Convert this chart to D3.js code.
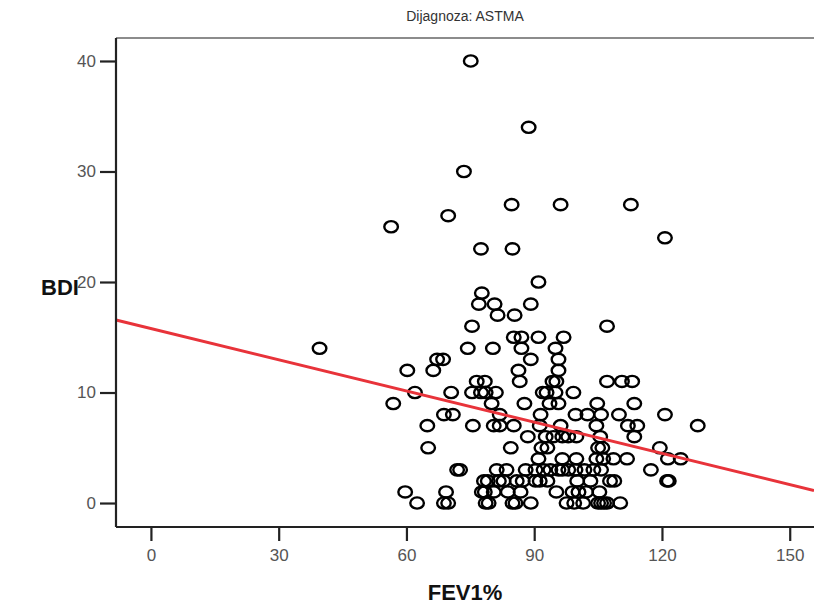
<!DOCTYPE html>
<html>
<head>
<meta charset="utf-8">
<script src="https://cdn.jsdelivr.net/npm/d3@7"></script>
<style>
  body { margin: 0; background: #fff; }
  svg text { font-family: "Liberation Sans", Arial, sans-serif; }
</style>
</head>
<body>
<div id="chart"></div>
<script>
// values: FEV1% (x) per BDI score row (y)
var fevByBdi = [
  [0,  [62.5, 68.8, 69.8, 78.6, 79.3, 84.9, 85.6, 89.2, 97.6, 99.4, 101.5, 105.0, 105.7, 106.4, 107.1, 110.2]],
  [1,  [59.7, 69.3, 77.7, 78.4, 80.5, 83.8, 86.8, 95.2, 99.0, 100.4, 102.2, 105.3]],
  [2,  [78.2, 79.1, 81.7, 82.8, 85.9, 87.3, 90.3, 91.3, 93.1, 100.1, 103.2, 107.8, 108.8, 121.2, 121.6]],
  [3,  [71.9, 72.6, 81.2, 83.5, 88.0, 90.3, 92.2, 93.8, 95.7, 96.6, 98.0, 99.7, 101.8, 103.9, 105.7, 117.4]],
  [4,  [91.0, 96.6, 99.9, 104.6, 106.2, 108.6, 111.8, 121.4, 124.4]],
  [5,  [65.1, 84.5, 91.7, 93.1, 105.0, 106.0, 119.5]],
  [6,  [88.5, 92.7, 94.5, 96.6, 98.0, 99.9, 105.5, 113.5]],
  [7,  [64.9, 75.6, 80.5, 81.9, 85.2, 91.3, 96.2, 104.6, 112.0, 114.2, 128.4]],
  [8,  [68.8, 70.9, 81.9, 91.5, 99.7, 102.5, 105.7, 109.9, 120.7]],
  [9,  [56.9, 80.0, 87.7, 93.6, 95.7, 104.8, 113.5]],
  [10, [62.0, 70.5, 75.4, 77.5, 78.6, 81.0, 92.0, 92.9, 95.0, 99.2]],
  [11, [76.5, 78.4, 86.6, 94.3, 95.2, 107.1, 110.6, 113.0]],
  [12, [60.2, 66.3, 86.3, 95.7]],
  [13, [67.2, 68.6, 89.2, 95.7]],
  [14, [39.6, 74.4, 80.3, 87.0, 95.0]],
  [15, [85.2, 87.0, 91.0, 96.9]],
  [16, [75.4, 107.1]],
  [17, [81.4, 85.4]],
  [18, [77.0, 80.7, 89.2]],
  [19, [77.7]],
  [20, [91.0]],
  [23, [77.5, 84.9]],
  [24, [120.7]],
  [25, [56.4]],
  [26, [69.8]],
  [27, [84.7, 96.2, 112.7]],
  [30, [73.5]],
  [34, [88.7]],
  [40, [75.1]]
];
var xTicks = [0, 30, 60, 90, 120, 150];
var yTicks = [0, 10, 20, 30, 40];
var fitIntercept = 15.79;
var fitSlope = -0.0941;
var title = "Dijagnoza: ASTMA";
var xLabel = "FEV1%";
var yLabel = "BDI";

var points = [];
fevByBdi.forEach(function(row) {
  row[1].forEach(function(f) { points.push({ fev: f, bdi: row[0] }); });
});

var W = 814, H = 606;
var plot = { left: 116, right: 814, top: 38, bottom: 527 };

var x = d3.scaleLinear().domain([-8.2, 155.7]).range([plot.left, plot.right]);
var y = d3.scaleLinear().domain([-2.17, 42.08]).range([plot.bottom, plot.top]);

var svg = d3.select("#chart").append("svg")
    .attr("width", W)
    .attr("height", H);

// top frame line (grey)
svg.append("line")
    .attr("x1", plot.left).attr("y1", plot.top)
    .attr("x2", plot.right).attr("y2", plot.top)
    .attr("stroke", "#8c8c8c")
    .attr("stroke-width", 2);

// points
svg.append("g").selectAll("ellipse")
    .data(points)
  .enter().append("ellipse")
    .attr("cx", function(d) { return x(d.fev); })
    .attr("cy", function(d) { return y(d.bdi); })
    .attr("rx", 6.8)
    .attr("ry", 5.6)
    .attr("fill", "none")
    .attr("stroke", "#000")
    .attr("stroke-width", 2.4);

// fit line
var xd = x.domain();
svg.append("line")
    .attr("x1", x(xd[0])).attr("y1", y(fitIntercept + fitSlope * xd[0]))
    .attr("x2", x(xd[1])).attr("y2", y(fitIntercept + fitSlope * xd[1]))
    .attr("stroke", "#e8333a")
    .attr("stroke-width", 3);

// axes
var xAxis = svg.append("g")
    .attr("transform", "translate(0," + plot.bottom + ")")
    .call(d3.axisBottom(x).tickValues(xTicks).tickSize(14).tickPadding(8).tickSizeOuter(0));
var yAxis = svg.append("g")
    .attr("transform", "translate(" + plot.left + ",0)")
    .call(d3.axisLeft(y).tickValues(yTicks).tickSize(16).tickPadding(4).tickSizeOuter(0));

[xAxis, yAxis].forEach(function(a) {
  a.select(".domain").attr("stroke", "#222").attr("stroke-width", 2.2);
  a.selectAll(".tick line").attr("stroke", "#222").attr("stroke-width", 2.2);
  a.selectAll(".tick text")
      .attr("fill", "#555")
      .style("font-size", "17px");
});
xAxis.select(".domain").attr("d", "M" + plot.left + ",0H" + plot.right);
yAxis.select(".domain").attr("d", "M0," + plot.top + "V" + plot.bottom);

// labels
svg.append("text")
    .attr("x", 465).attr("y", 21)
    .attr("text-anchor", "middle")
    .attr("fill", "#333")
    .style("font-size", "14px")
    .text(title);

svg.append("text")
    .attr("x", 465).attr("y", 600)
    .attr("text-anchor", "middle")
    .attr("fill", "#111")
    .style("font-size", "22px")
    .style("font-weight", "bold")
    .text(xLabel);

svg.append("text")
    .attr("x", 60).attr("y", 295)
    .attr("text-anchor", "middle")
    .attr("fill", "#111")
    .style("font-size", "22px")
    .style("font-weight", "bold")
    .text(yLabel);
</script>
</body>
</html>
